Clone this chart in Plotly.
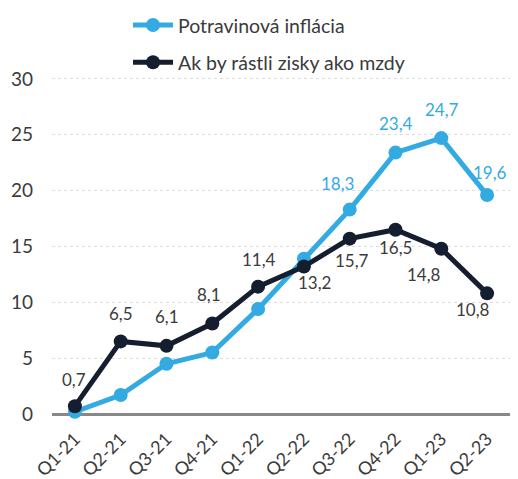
import plotly.graph_objects as go

categories = ["Q1-21", "Q2-21", "Q3-21", "Q4-21", "Q1-22", "Q2-22", "Q3-22", "Q4-22", "Q1-23", "Q2-23"]
food_inflation = [0.2, 1.7, 4.5, 5.5, 9.4, 13.9, 18.3, 23.4, 24.7, 19.6]
profits_as_wages = [0.7, 6.5, 6.1, 8.1, 11.4, 13.2, 15.7, 16.5, 14.8, 10.8]
name_food = "Potravinová inflácia"
name_profits = "Ak by rástli zisky ako mzdy"
y_ticks = [0, 5, 10, 15, 20, 25, 30]

BLUE = "#33ABE2"
DARK = "#141E2E"
TXT = "#3B3B3B"
FONT = "Lato, 'Open Sans', sans-serif"

fig = go.Figure()
fig.add_trace(go.Scatter(x=categories, y=food_inflation, name=name_food, mode="lines+markers",
                         legendgroup="a",
                         line=dict(color=BLUE, width=5), marker=dict(size=14, color=BLUE), cliponaxis=False))
fig.add_trace(go.Scatter(x=categories, y=profits_as_wages, name=name_profits, mode="lines+markers",
                         legendgroup="b",
                         line=dict(color=DARK, width=5), marker=dict(size=14, color=DARK), cliponaxis=False))

def fmt(v):
    return f"{v:.1f}".replace(".", ",")

# label offsets (x, y in px) — styling only
food_label_idx = [6, 7, 8, 9]
food_offsets = {6: (-12, 26), 7: (0, 29), 8: (1, 29), 9: (3, 23)}
for i in food_label_idx:
    dx, dy = food_offsets[i]
    fig.add_annotation(x=categories[i], y=food_inflation[i], text=fmt(food_inflation[i]),
                       showarrow=False, xshift=dx, yshift=dy, font=dict(size=17, color=BLUE, family=FONT))

dark_offsets = [(-1, 27), (0, 28), (0, 29), (-3, 29), (1, 27), (11, -16), (2, -22), (0, -18), (-17, -26), (-14, -16)]
for i, v in enumerate(profits_as_wages):
    dx, dy = dark_offsets[i]
    fig.add_annotation(x=categories[i], y=v, text=fmt(v), showarrow=False, xshift=dx, yshift=dy,
                       font=dict(size=17, color=TXT, family=FONT))

# The page body adds an 8px offset, so the figure is sized 510x471.
fig.update_layout(
    width=510, height=471,
    margin=dict(l=44, r=8, t=5, b=65, autoexpand=False),
    paper_bgcolor="white", plot_bgcolor="white",
    font=dict(family=FONT, size=16, color=TXT),
    showlegend=True,
    legend=dict(xref="paper", yref="paper", x=(120 - 44) / 458, y=1.018,
                xanchor="left", yanchor="top", orientation="v", traceorder="grouped",
                font=dict(size=19.5, color=TXT, family=FONT), tracegroupgap=9, itemwidth=40,
                bgcolor="rgba(0,0,0,0)"),
    xaxis=dict(type="category", range=[-0.5, 9.5], tickangle=-45, showgrid=False, showline=False,
               ticks="", tickfont=dict(size=18, color=TXT), automargin=False, ticklabelstandoff=10),
    yaxis=dict(range=[0, 35.9], tickvals=y_ticks, showgrid=True, gridcolor="#DDDDDD", griddash="dot",
               gridwidth=1, zeroline=True, zerolinecolor="#888888", zerolinewidth=2.5, automargin=False,
               ticks="", tickfont=dict(size=19, color=TXT), ticklabelstandoff=18),
)

fig.write_html("out.html")
